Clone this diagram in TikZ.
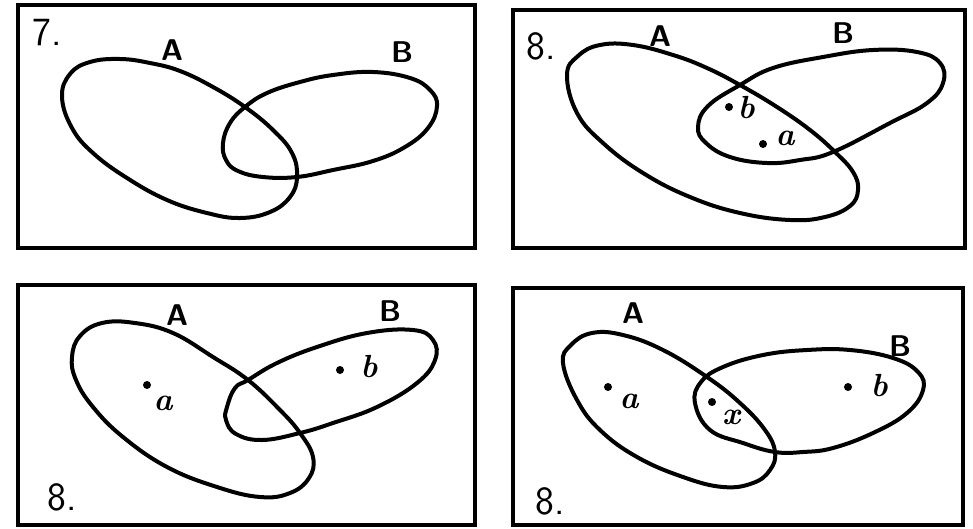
\documentclass[tikz,border=0pt]{standalone}
\begin{document}
\begin{tikzpicture}[x=1pt,y=-1pt,
  frame/.style={line width=3.6pt, line join=miter},
  loopline/.style={line width=4pt, line join=round, line cap=round},
  caplab/.style={font=\sffamily\bfseries\fontsize{30}{30}\selectfont, inner sep=0pt},
  numlab/.style={font=\sffamily\fontsize{40}{40}\selectfont, inner sep=0pt},
  smalllab/.style={font=\bfseries\itshape\fontsize{32}{32}\selectfont, inner sep=0pt},
  ptdot/.style={circle, fill, inner sep=0pt, minimum size=8pt}]
\useasboundingbox (0,0) rectangle (973,528);

% ---------------- Panel 1 (7.) ----------------
\draw[frame] (18,5) rectangle (475,248);
\node[numlab] (n1) at (47,33) {7.};
\node[caplab] (a1) at (172,50) {A};
\node[caplab] (b1) at (402,52) {B};
\draw[loopline] plot[smooth cycle, tension=0.7] coordinates {
  (62,97) (70,74) (90,62) (120,59) (150,63) (180,71) (213,87) (245,107)
  (273,130) (292,153) (297,177) (290,197) (270,212) (240,218) (207,213)
  (167,200) (127,178) (93,153) (72,128)};
\draw[loopline] plot[smooth cycle, tension=0.7] coordinates {
  (223,143) (230,123) (245,107) (267,93) (300,82) (333,75) (373,72)
  (410,78) (430,90) (437,106) (428,128) (405,147) (373,161) (333,170)
  (297,177) (263,177) (238,171) (226,160)};

% ---------------- Panel 2 (8.) ----------------
\draw[frame] (513,10) rectangle (965,248);
\node[numlab] (n2) at (541,46) {8.};
\node[caplab] (a2) at (660,36) {A};
\node[caplab] (b2) at (843,33) {B};
\draw[loopline] plot[smooth cycle, tension=0.7] coordinates {
  (567,75) (578,56) (600,45) (633,45) (673,55) (707,68) (740,85) (777,107)
  (810,130) (835,152) (853,172) (858,190) (850,206) (825,217) (790,220)
  (740,213) (690,197) (643,173) (603,143) (577,113)};
\draw[loopline] plot[smooth cycle, tension=0.7] coordinates {
  (698,127) (708,106) (740,85) (773,68) (823,57) (873,50) (917,52)
  (940,63) (943,83) (927,103) (890,123) (833,152) (800,160) (767,163)
  (730,157) (706,143)};
\node[ptdot] (p2b) at (729,107) {};
\node[smalllab] (l2b) at (746,108) {b};
\node[ptdot] (p2a) at (763,144) {};
\node[smalllab] (l2a) at (785,138) {a};

% ---------------- Panel 3 (8.) ----------------
\draw[frame] (18,285) rectangle (475,525);
\node[caplab] (a3) at (177,315) {A};
\node[caplab] (b3) at (390,311) {B};
\node[numlab] (n3) at (62,497) {8.};
\draw[loopline] plot[smooth cycle, tension=0.7] coordinates {
  (72,357) (80,336) (102,323) (135,323) (173,333) (213,357) (248,380)
  (280,410) (300,433) (313,457) (309,478) (290,493) (260,497) (217,487)
  (167,467) (123,437) (93,407) (76,380)};
\draw[loopline] plot[smooth cycle, tension=0.7] coordinates {
  (227,407) (235,388) (248,380) (277,363) (317,347) (367,333) (413,330)
  (433,340) (435,360) (417,383) (377,407) (333,423) (300,433)
  (262,440) (236,434) (226,420)};
\node[ptdot] (p3a) at (147,385) {};
\node[smalllab] (l3a) at (163,403) {a};
\node[ptdot] (p3b) at (340,370) {};
\node[smalllab] (l3b) at (369,366) {b};

% ---------------- Panel 4 (8.) ----------------
\draw[frame] (513,288) rectangle (963,525);
\node[caplab] (a4) at (633,313) {A};
\node[caplab] (b4) at (900,346) {B};
\node[numlab] (n4) at (550,501) {8.};
\draw[loopline] plot[smooth cycle, tension=0.7] coordinates {
  (563,363) (571,345) (592,333) (623,335) (663,350) (707,377) (740,403)
  (765,430) (775,452) (770,470) (753,483) (723,487) (683,477) (637,457)
  (600,430) (577,400)};
\draw[loopline] plot[smooth cycle, tension=0.7] coordinates {
  (695,403) (701,382) (723,367) (763,355) (807,350) (850,350) (893,358)
  (918,372) (923,390) (907,413) (873,433) (833,448) (803,452) (775,452)
  (743,443) (710,430)};
\node[ptdot] (p4a) at (608,387) {};
\node[smalllab] (l4a) at (629,401) {a};
\node[ptdot] (p4x) at (712,402) {};
\node[smalllab] (l4x) at (731,417) {x};
\node[ptdot] (p4b) at (848,387) {};
\node[smalllab] (l4b) at (879,385) {b};
\end{tikzpicture}
\end{document}
